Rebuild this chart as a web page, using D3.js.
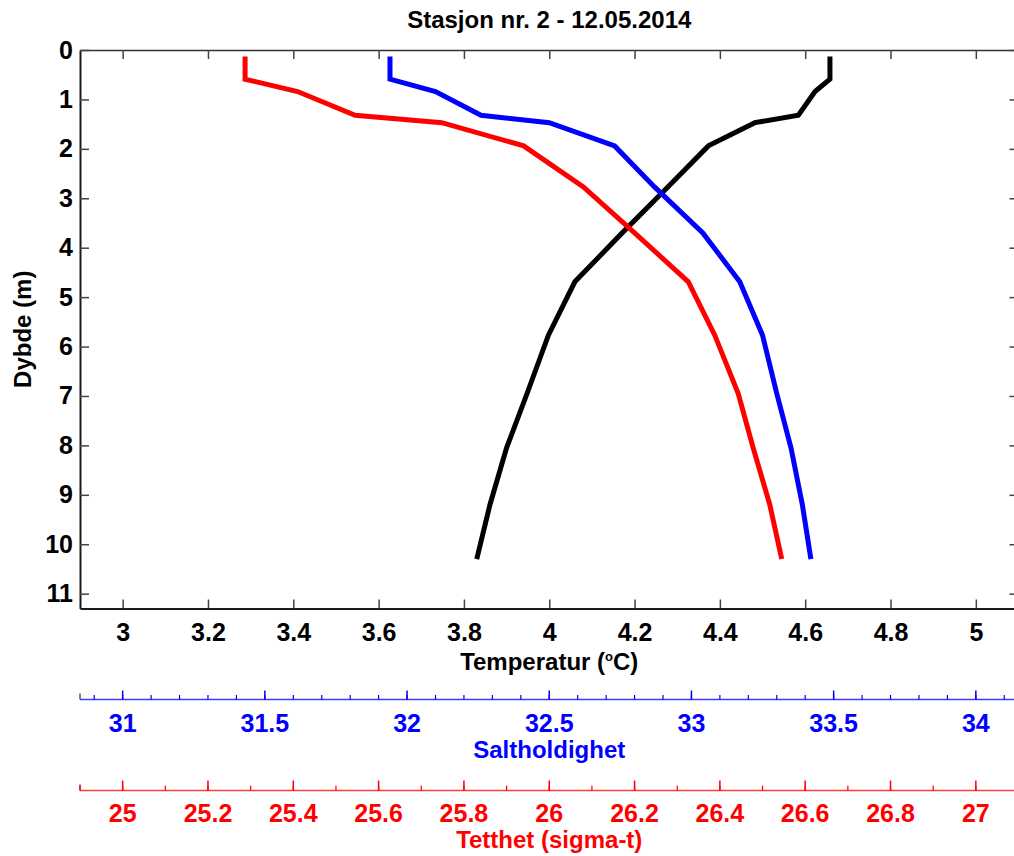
<!DOCTYPE html>
<html>
<head>
<meta charset="utf-8">
<script src="https://cdn.jsdelivr.net/npm/d3@7"></script>
<style>
  html, body { margin: 0; padding: 0; background: #fff; }
  svg { display: block; font-family: "Liberation Sans", Arial, sans-serif; font-weight: bold; }
</style>
</head>
<body>
<svg id="chart" width="1014" height="856"></svg>
<script>
// profile depths (m), one sample per row
const depth       = [0.13, 0.59, 0.84, 1.32, 1.47, 1.94, 2.77, 3.70, 4.69, 5.77, 6.95, 8.05, 9.20, 10.30];
const temperature = [4.658, 4.658, 4.623, 4.584, 4.482, 4.373, 4.278, 4.171, 4.060, 3.998, 3.948, 3.900, 3.861, 3.830];
const salinity    = [31.94, 31.94, 32.10, 32.26, 32.50, 32.73, 32.87, 33.04, 33.17, 33.25, 33.30, 33.35, 33.39, 33.42];
const sigmaT      = [25.287, 25.287, 25.410, 25.545, 25.748, 25.940, 26.080, 26.200, 26.326, 26.388, 26.443, 26.478, 26.517, 26.545];

const tempTicks  = d3.range(3, 5.01, 0.2);
const depthTicks = d3.range(0, 12, 1);
const salMajor   = [31, 31.5, 32, 32.5, 33, 33.5, 34];
const salMinor   = d3.range(30.9, 34.15, 0.1);
const sigMajor   = d3.range(25, 27.01, 0.2);
const sigMinor   = d3.range(24.9, 27.1, 0.1);

const L = 80, R = 1018.5, T = 50, B = 608.5;
const svg = d3.select('#chart');

const x  = d3.scaleLinear([2.9, 5.1], [L, R]);
const y  = d3.scaleLinear([0, 11.3], [T, B]);
const xS = d3.scaleLinear([30.85, 34.15], [L, R]);
const xD = d3.scaleLinear([24.9, 27.1], [L, R]);

const fmt = d => +d.toFixed(1) + '';

// main box axes
const gB = svg.append('g').attr('transform', `translate(0,${B})`)
  .call(d3.axisBottom(x).tickValues(tempTicks).tickFormat(fmt).tickSizeInner(-9).tickSizeOuter(0).tickPadding(15));
const gTop = svg.append('g').attr('transform', `translate(0,${T})`)
  .call(d3.axisTop(x).tickValues(tempTicks).tickFormat('').tickSizeInner(-9).tickSizeOuter(0));
const gL = svg.append('g').attr('transform', `translate(${L},0)`)
  .call(d3.axisLeft(y).tickValues(depthTicks).tickFormat(d3.format('d')).tickSizeInner(-9).tickSizeOuter(0).tickPadding(7));
const gR = svg.append('g').attr('transform', `translate(${R},0)`)
  .call(d3.axisRight(y).tickValues(depthTicks).tickFormat('').tickSizeInner(-9).tickSizeOuter(0));

[gB, gTop, gL, gR].forEach(g => {
  g.select('.domain').attr('stroke', '#1a1a1a').attr('stroke-width', 2);
  g.selectAll('.tick line').attr('stroke', '#444').attr('stroke-width', 1.5);
  g.selectAll('.tick text').attr('fill', '#000').attr('font-size', 25).attr('font-weight', 'bold')
    .attr('font-family', '"Liberation Sans", Arial, sans-serif');
});
gTop.select('.domain').attr('stroke-width', 1.5).attr('stroke', '#333');

// profiles
const line = (xs, vals) => d3.line().x((d, i) => xs(vals[i])).y(d => y(d));
const plot = svg.append('g');
plot.append('path').datum(depth).attr('d', line(x, temperature))
  .attr('fill', 'none').attr('stroke', '#000').attr('stroke-width', 5);
plot.append('path').datum(depth).attr('d', line(xS, salinity))
  .attr('fill', 'none').attr('stroke', '#0000ff').attr('stroke-width', 5);
plot.append('path').datum(depth).attr('d', line(xD, sigmaT))
  .attr('fill', 'none').attr('stroke', '#ff0000').attr('stroke-width', 5);

// title + main labels
svg.append('text').attr('x', (L + R) / 2).attr('y', 28).attr('text-anchor', 'middle')
  .attr('font-size', 24).text('Stasjon nr. 2 - 12.05.2014');
svg.append('text').attr('transform', `translate(31,${(T + B) / 2}) rotate(-90)`)
  .attr('text-anchor', 'middle').attr('font-size', 24).text('Dybde (m)');
const xl = svg.append('text').attr('x', (L + R) / 2).attr('y', 670).attr('text-anchor', 'middle').attr('font-size', 24);
xl.append('tspan').text('Temperatur (');
xl.append('tspan').attr('dy', -9).attr('font-size', 13).text('o');
xl.append('tspan').attr('dy', 9).text('C)');

// extra x-axes underneath
function extraAxis(scale, yPos, major, minor, color, majLen, minLen, labelY, title, titleY, tf) {
  const g = svg.append('g');
  g.append('line').attr('x1', L).attr('x2', R).attr('y1', yPos).attr('y2', yPos)
    .attr('stroke', color).attr('stroke-width', 1.5).attr('opacity', 0.75);
  g.append('line').attr('x1', L).attr('x2', L).attr('y1', yPos - 6).attr('y2', yPos)
    .attr('stroke', '#555').attr('stroke-width', 1.5);
  g.selectAll('line.minor').data(minor).join('line').attr('class', 'minor')
    .attr('x1', d => scale(d)).attr('x2', d => scale(d))
    .attr('y1', yPos - minLen).attr('y2', yPos).attr('stroke', color).attr('stroke-width', 1.2);
  g.selectAll('line.major').data(major).join('line').attr('class', 'major')
    .attr('x1', d => scale(d)).attr('x2', d => scale(d))
    .attr('y1', yPos - majLen).attr('y2', yPos).attr('stroke', color).attr('stroke-width', 1.5);
  g.selectAll('text.lab').data(major).join('text').attr('class', 'lab')
    .attr('x', d => scale(d)).attr('y', labelY).attr('text-anchor', 'middle')
    .attr('fill', color).attr('font-size', 25).text(tf);
  g.append('text').attr('x', (L + R) / 2).attr('y', titleY).attr('text-anchor', 'middle')
    .attr('fill', color).attr('font-size', 24).text(title);
}
extraAxis(xS, 699.5, salMajor, salMinor, '#0000ff', 9, 4.5, 732, 'Saltholdighet', 758, d => d + '');
extraAxis(xD, 790.5, sigMajor, sigMinor, '#ff0000', 10, 5, 822, 'Tetthet (sigma-t)', 848, fmt);
</script>
</body>
</html>
